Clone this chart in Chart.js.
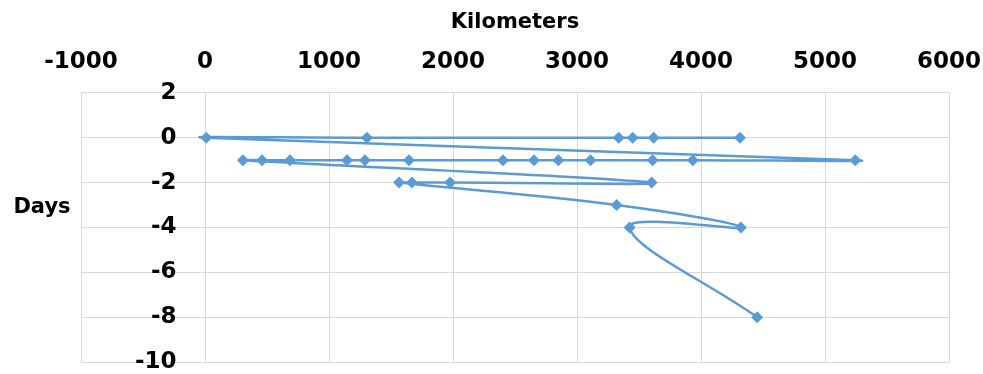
<!DOCTYPE html>
<html>
<head>
<meta charset="utf-8">
<script src="https://cdn.jsdelivr.net/npm/chart.js@4.4.1/dist/chart.umd.min.js"></script>
<style>
  html, body { margin: 0; padding: 0; background: #fff; }
  #wrap { width: 983px; height: 374px; }
</style>
</head>
<body>
<div id="wrap"><canvas id="chart"></canvas></div>
<script>
// 그림에서 읽은 값 (순서대로 선으로 연결됨)
const kilometers = [4314, 3618, 3449, 3336, 1306, 10, 5244, 3934, 3610, 3109, 2850, 2653, 2403,
                    1645, 1290, 1145, 685, 460, 306, 3602, 1976, 1669, 1565, 3319, 4322, 3424, 4453];
const days = [0, 0, 0, 0, 0, 0, -1, -1, -1, -1, -1, -1, -1,
              -1, -1, -1, -1, -1, -1, -2, -2, -2, -2, -3, -4, -4, -8];

// 축 눈금
const xTicks = [-1000, 0, 1000, 2000, 3000, 4000, 5000, 6000];
const yTicks = [2, 0, -2, -4, -6, -8, -10];

const BLUE = '#5b9bd5';
const GRID = '#d9d9d9';
const FONT = '"DejaVu Sans", sans-serif';

const points = kilometers.map((km, i) => ({ x: km, y: days[i] }));

// 'Days' 라벨은 가로로 쓰여 있어서 직접 그림
const daysLabel = {
    id: 'daysLabel',
    afterDraw(chart) {
        const ctx = chart.ctx;
        ctx.save();
        ctx.font = 'bold 21px ' + FONT;
        ctx.fillStyle = '#000';
        ctx.textAlign = 'center';
        ctx.textBaseline = 'alphabetic';
        ctx.fillText('Days', 42, 213);
        ctx.restore();
    }
};

new Chart(document.getElementById('chart'), {
    type: 'scatter',
    data: {
        datasets: [{
            data: points,
            showLine: true,
            borderColor: BLUE,
            backgroundColor: BLUE,
            borderWidth: 2.5,
            tension: 0.4,
            pointStyle: 'rectRot',
            pointRadius: 6,
            pointBorderWidth: 0
        }]
    },
    options: {
        responsive: true,
        maintainAspectRatio: false,
        animation: false,
        layout: { padding: { left: 81, right: 34, top: 0, bottom: 12 } },
        plugins: {
            legend: { display: false },
            tooltip: { enabled: false }
        },
        scales: {
            x: {
                type: 'linear',
                position: 'top',
                min: xTicks[0],
                max: xTicks[xTicks.length - 1],
                ticks: {
                    stepSize: xTicks[1] - xTicks[0],
                    padding: 0,
                    color: '#000',
                    // 줄 높이를 키워서 라벨과 그래프 사이 간격을 만듦
                    font: { family: FONT, size: 23, weight: 'bold', lineHeight: 2.7 },
                    callback: v => String(v)
                },
                grid: { color: GRID, lineWidth: 1, drawTicks: false },
                border: { color: GRID },
                title: {
                    display: true,
                    text: 'Kilometers',
                    color: '#000',
                    font: { family: FONT, size: 21, weight: 'bold', lineHeight: 0.8 },
                    padding: { top: 14, bottom: 0 }
                }
            },
            y: {
                type: 'linear',
                // 세로축 라벨이 0 근처 그래프 안쪽에 있음
                position: { x: -230 },
                min: yTicks[yTicks.length - 1],
                max: yTicks[0],
                ticks: {
                    stepSize: yTicks[0] - yTicks[1],
                    padding: 0,
                    color: '#000',
                    font: { family: FONT, size: 23, weight: 'bold', lineHeight: 1 },
                    callback: v => String(v)
                },
                grid: { color: GRID, lineWidth: 1, drawTicks: false },
                border: { display: false }
            }
        }
    },
    plugins: [daysLabel]
});
</script>
</body>
</html>
